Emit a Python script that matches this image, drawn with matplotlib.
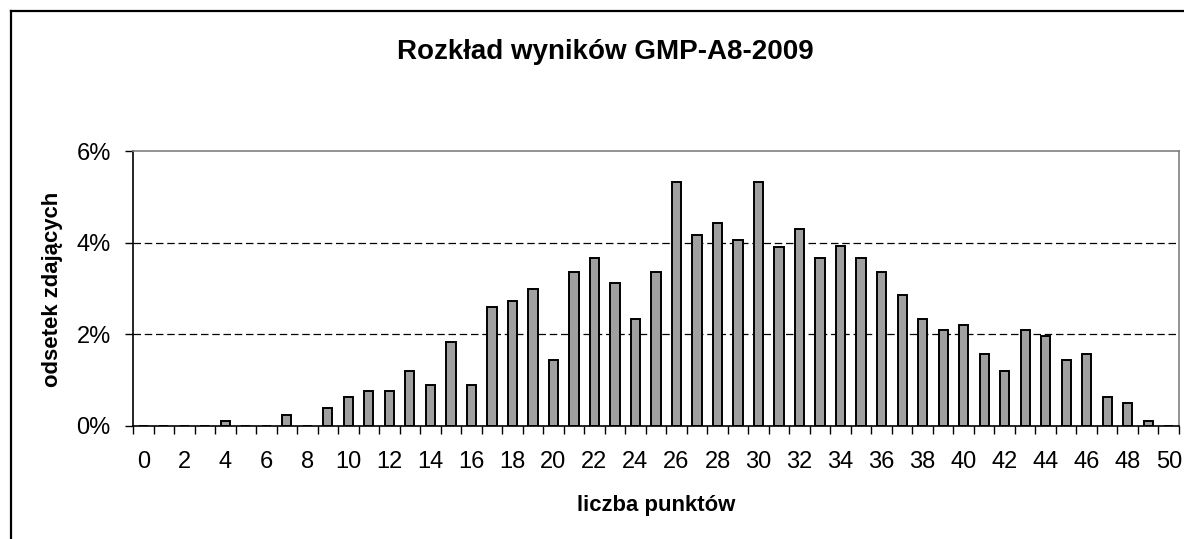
import matplotlib
matplotlib.use("Agg")
import matplotlib.pyplot as plt
from matplotlib.lines import Line2D
from matplotlib.ticker import FixedLocator, FuncFormatter

plt.rcParams['font.family'] = ['Liberation Sans', 'DejaVu Sans']

title = "Rozkład wyników GMP-A8-2009"
xlabel = "liczba punktów"
ylabel = "odsetek zdających"

points = list(range(0, 51))
share = [0.00, 0.00, 0.00, 0.00, 0.12, 0.00, 0.00, 0.25, 0.00, 0.39,
         0.63, 0.76, 0.76, 1.19, 0.89, 1.83, 0.89, 2.60, 2.72, 2.98,
         1.44, 3.36, 3.66, 3.11, 2.34, 3.36, 5.32, 4.17, 4.42, 4.05,
         5.32, 3.91, 4.29, 3.66, 3.92, 3.66, 3.36, 2.85, 2.34, 2.09,
         2.21, 1.57, 1.19, 2.09, 1.96, 1.44, 1.57, 0.63, 0.51, 0.12,
         0.00]
yticks = [0, 2, 4, 6]
xtick_labels = list(range(0, 51, 2))

W, H = 1184, 539
fig = plt.figure(figsize=(W / 100, H / 100), dpi=100)
fig.patch.set_facecolor('white')

left, right, top, bottom = 133, 1179, 151, 426
ax = fig.add_axes([left / W, 1 - bottom / H, (right - left) / W, (bottom - top) / H])

ax.bar(points, share, width=0.45, color='#a0a0a0', edgecolor='black', linewidth=1.4, zorder=3)

ax.set_xlim(-0.5, 50.5)
ax.set_ylim(0, 6)

for g in [2, 4]:
    ax.axhline(g, color='black', linewidth=0.9, linestyle=(0, (6, 3)), zorder=1)

ax.yaxis.set_major_locator(FixedLocator(yticks))
ax.yaxis.set_major_formatter(FuncFormatter(lambda v, p: f"{int(v)}%"))
ax.tick_params(axis='y', direction='out', length=6, width=1, pad=10, labelsize=17, color='black')

ax.xaxis.set_major_locator(FixedLocator(xtick_labels))
ax.xaxis.set_minor_locator(FixedLocator([p + 0.5 for p in points[:-1]] + [-0.5, 50.5]))
ax.tick_params(axis='x', which='major', length=0, pad=18, labelsize=17)
ax.tick_params(axis='x', which='minor', direction='out', length=5.5, width=1, color='black')

ax.spines['left'].set_color('black')
ax.spines['bottom'].set_color('black')
ax.spines['top'].set_color('#808080')
ax.spines['right'].set_color('#808080')
for s in ax.spines.values():
    s.set_linewidth(1.2)
    s.set_zorder(4)

fig.text(605 / W, 1 - 52 / H, title, ha='center', va='center', fontsize=20, fontweight='bold')
fig.text(656 / W, 1 - 505 / H, xlabel, ha='center', va='center', fontsize=15.9, fontweight='bold')
fig.text(53 / W, 1 - 289 / H, ylabel, ha='center', va='center', rotation=90, fontsize=15.9, fontweight='bold')

# outer chart frame (partly cropped in the reference)
fig.add_artist(Line2D([10.5 / W, 10.5 / W], [1 - 10.5 / H, 0], transform=fig.transFigure,
                      color='black', linewidth=1.6))
fig.add_artist(Line2D([10.5 / W, 1], [1 - 10.5 / H, 1 - 10.5 / H], transform=fig.transFigure,
                      color='black', linewidth=1.6))

fig.savefig('out.png', dpi=100)
